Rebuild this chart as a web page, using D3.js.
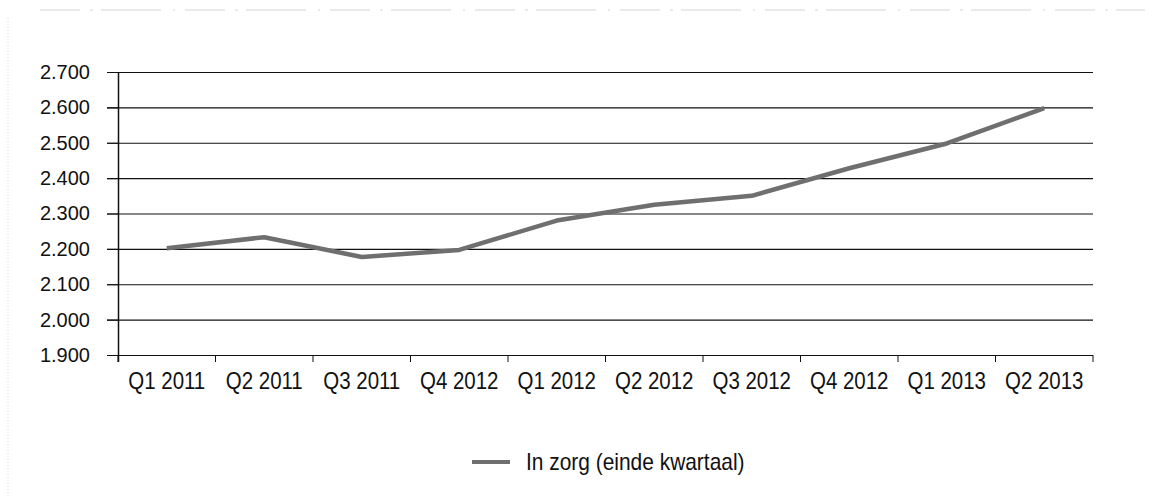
<!DOCTYPE html>
<html>
<head>
<meta charset="utf-8">
<script src="https://cdn.jsdelivr.net/npm/d3@7/dist/d3.min.js"></script>
<style>
  body { margin: 0; background: #fff; }
  svg { display: block; }
</style>
</head>
<body>
<svg id="chart" width="1152" height="496"></svg>
<script>
// kwartalen (label "Q4 2012" staat twee keer in het origineel)
const kwartalen = ["Q1 2011", "Q2 2011", "Q3 2011", "Q4 2012", "Q1 2012",
  "Q2 2012", "Q3 2012", "Q4 2012", "Q1 2013", "Q2 2013"]
// aantal in zorg aan einde van het kwartaal
const inZorg = [2202, 2233, 2177, 2197, 2280, 2325, 2350, 2428, 2498, 2598]
const yTicks = [1900, 2000, 2100, 2200, 2300, 2400, 2500, 2600, 2700]
const legendaNaam = "In zorg (einde kwartaal)"

const svg = d3.select("#chart")
const margin = { left: 118, right: 59, top: 72, bottom: 141 }
const W = 1152, H = 496
const smal = "'Liberation Sans Narrow', 'Liberation Sans', Arial, sans-serif"

// index als domein omdat de labels niet uniek zijn
const x = d3.scaleBand()
  .domain(d3.range(kwartalen.length))
  .range([margin.left, W - margin.right])
  .padding(0)

const y = d3.scaleLinear()
  .domain([1900, 2700])
  .range([H - margin.bottom, margin.top])

const fmt = d => d3.format(",")(d).replace(/,/g, ".")

// scan randjes (boven en links)
svg.append("line")
  .attr("x1", 40).attr("x2", 1145).attr("y1", 10).attr("y2", 10)
  .attr("stroke", "#d4d4d4").attr("stroke-dasharray", "40 10 3 8 60 12 2 10")
svg.append("line")
  .attr("x1", 8).attr("x2", 8).attr("y1", 18).attr("y2", 496)
  .attr("stroke", "#d8d8d8").attr("stroke-dasharray", "1 2")

// rasterlijnen
svg.append("g")
  .selectAll("line")
  .data(yTicks)
  .join("line")
  .attr("x1", margin.left - 11)
  .attr("x2", W - margin.right)
  .attr("y1", d => y(d) + 0.5)
  .attr("y2", d => y(d) + 0.5)
  .attr("stroke", "#111")
  .attr("stroke-width", 1.2)

// y-as
const yAxis = svg.append("g")
  .attr("transform", `translate(${margin.left},0)`)
  .call(d3.axisLeft(y).tickValues(yTicks).tickFormat(fmt).tickSize(11).tickPadding(17))
yAxis.select(".domain").remove()
yAxis.append("line")
  .attr("x1", 0.5).attr("x2", 0.5)
  .attr("y1", y(2700)).attr("y2", y(1900) + 7)
  .attr("stroke", "#111").attr("stroke-width", 1.5)
yAxis.selectAll("text")
  .attr("font-family", "'Liberation Sans', Arial, sans-serif")
  .attr("font-size", 20)
  .attr("fill", "#111")
yAxis.selectAll(".tick line").attr("stroke", "#111")

// x-as
const xAxis = svg.append("g")
  .attr("transform", `translate(0,${H - margin.bottom})`)
  .call(d3.axisBottom(x).tickSize(0).tickPadding(18).tickFormat(i => kwartalen[i]))
xAxis.select(".domain").remove()
xAxis.selectAll("text")
  .attr("font-family", smal)
  .attr("font-size", 23)
  .attr("fill", "#111")
  .attr("transform", "scale(0.89,1)")
svg.append("g")
  .selectAll("line")
  .data(d3.range(kwartalen.length + 1))
  .join("line")
  .attr("x1", i => margin.left + i * x.bandwidth())
  .attr("x2", i => margin.left + i * x.bandwidth())
  .attr("y1", y(1900))
  .attr("y2", y(1900) + 7)
  .attr("stroke", "#111")

// de lijn
const lijn = d3.line()
  .x((d, i) => x(i) + x.bandwidth() / 2)
  .y(d => y(d))

svg.append("path")
  .datum(inZorg)
  .attr("d", lijn)
  .attr("fill", "none")
  .attr("stroke", "#6f6f6f")
  .attr("stroke-width", 4.5)
  .attr("stroke-linejoin", "round")

// legenda
const leg = svg.append("g").attr("transform", "translate(472,462)")
leg.append("line")
  .attr("x1", 0).attr("x2", 38).attr("y1", 0).attr("y2", 0)
  .attr("stroke", "#6f6f6f").attr("stroke-width", 4)
leg.append("text")
  .attr("x", 0).attr("y", 0).attr("dy", "0.36em")
  .attr("transform", "translate(54,0) scale(0.91,1)")
  .attr("font-family", smal)
  .attr("font-size", 23)
  .attr("fill", "#111")
  .text(legendaNaam)
</script>
</body>
</html>
